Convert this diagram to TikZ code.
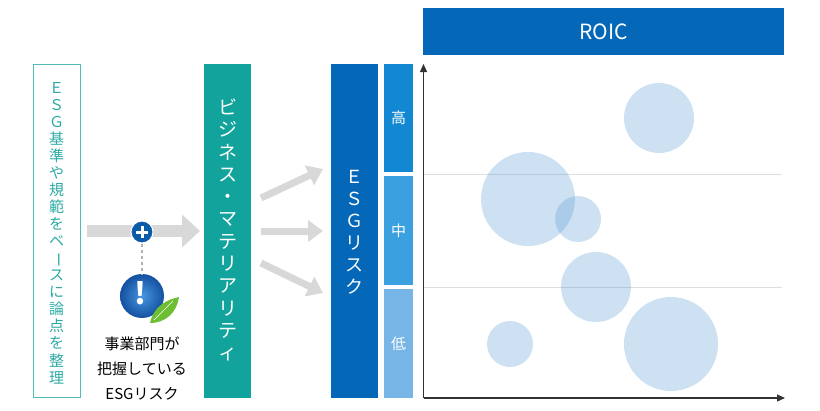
\documentclass[tikz,border=0pt]{standalone}
\usepackage{fontspec}
\setmainfont{Noto Sans CJK JP}
\usetikzlibrary{arrows.meta,shadings}
\definecolor{tealbox}{RGB}{18,164,156}
\definecolor{tealline}{RGB}{80,188,182}
\definecolor{tealtext}{RGB}{45,170,164}
\definecolor{darkblue}{RGB}{4,103,184}
\definecolor{hiblue}{RGB}{18,136,210}
\definecolor{midblue}{RGB}{58,160,224}
\definecolor{loblue}{RGB}{118,181,230}
\definecolor{bubble}{RGB}{91,155,213}
\definecolor{arrowgray}{RGB}{216,216,216}
\definecolor{axisgray}{RGB}{50,50,50}
\definecolor{gridgray}{RGB}{222,222,222}
\definecolor{plusblue}{RGB}{10,92,168}
\definecolor{iconin}{RGB}{70,150,225}
\definecolor{iconout}{RGB}{20,80,160}
\definecolor{leafgreen}{RGB}{110,190,50}
\tikzset{
  vtext/.style={align=center, inner sep=0pt},
  fatarrow/.style={draw=arrowgray, line width=12pt, -{Triangle[length=18pt,width=32pt]}},
  thinarrow/.style={draw=arrowgray, line width=7pt, -{Triangle[length=15pt,width=21pt]}},
  bub/.style={fill=bubble, fill opacity=0.3, draw=none},
  axis/.style={draw=axisgray, line width=1.2pt, -{Triangle[length=8pt,width=7pt]}},
  grid/.style={draw=gridgray, line width=0.6pt},
}
\begin{document}
\begin{tikzpicture}[x=1pt,y=-1pt]
\useasboundingbox (0,0) rectangle (820,410);
% left outlined box
\node[draw=tealline, line width=1pt, minimum width=47pt, minimum height=333pt, inner sep=0pt] (leftbox) at (56.5,230.5) {};
\node[vtext, text=tealtext, font=\fontsize{15}{17.05}\selectfont] (lefttext) at (56.5,233)
 {Ｅ\\Ｓ\\Ｇ\\基\\準\\や\\規\\範\\を\\ベ\\\rotatebox[origin=c]{-90}{ー}\\ス\\に\\論\\点\\を\\整\\理};
% teal box
\node[fill=tealbox, minimum width=47pt, minimum height=334pt, inner sep=0pt] (tealb) at (227.5,231) {};
\node[vtext, text=white, font=\fontsize{19}{22.3}\selectfont] (tealtext) at (227.5,230)
 {ビ\\ジ\\ネ\\ス\\・\\マ\\テ\\リ\\ア\\リ\\テ\\ィ};
% ESG risk box
\node[fill=darkblue, minimum width=47pt, minimum height=334pt, inner sep=0pt] (esgb) at (354.5,231) {};
\node[vtext, text=white, font=\fontsize{18}{22}\selectfont] (esgtext) at (354.5,232)
 {Ｅ\\Ｓ\\Ｇ\\リ\\ス\\ク};
% level boxes
\node[fill=hiblue, minimum width=29pt, minimum height=108pt, inner sep=0pt] (hi) at (398.5,118) {};
\node[fill=midblue, minimum width=29pt, minimum height=109pt, inner sep=0pt] (mid) at (398.5,230.5) {};
\node[fill=loblue, minimum width=29pt, minimum height=109pt, inner sep=0pt] (lo) at (398.5,343.5) {};
\node[text=white, font=\fontsize{15}{18}\selectfont] (hit) at (hi.center) {高};
\node[text=white, font=\fontsize{15}{18}\selectfont] (midt) at (mid.center) {中};
\node[text=white, font=\fontsize{15}{18}\selectfont] (lot) at (lo.center) {低};
% ROIC bar
\node[fill=darkblue, minimum width=361pt, minimum height=47pt, inner sep=0pt, text=white, font=\fontsize{21}{24}\selectfont] (roic) at (603.5,31.5) {ROIC};
% big arrow
\coordinate (fa1) at (87,231);
\coordinate (fa2) at (200,231);
\draw[fatarrow] (fa1) -- (fa2);
% plus icon
\node[circle, fill=plusblue, draw=white, line width=1pt, minimum size=22pt, inner sep=0pt] (plus) at (142,232) {};
\draw[white, line width=3pt] ([xshift=-6pt]plus.center) -- ([xshift=6pt]plus.center);
\draw[white, line width=3pt] ([yshift=-6pt]plus.center) -- ([yshift=6pt]plus.center);
% info icon
\node[circle, inner color=iconin, outer color=iconout, minimum size=44pt, inner sep=0pt] (info) at (142,296) {};
\draw[gray!60, line width=1.3pt, dash pattern=on 3pt off 3pt] (plus.south) -- (info.north);
\node[text=white, font=\bfseries\fontsize{30}{30}\selectfont] (excl) at (140,293) {!};
\fill[leafgreen] (150,323) .. controls (154,306) and (166,300) .. (179,297) .. controls (177,312) and (166,323) .. (150,323);
\draw[white, line width=0.6pt] (154,320) .. controls (163,310) .. (173,301);
% caption
\node[font=\fontsize{15}{25}\selectfont, align=center, inner sep=0pt] (cap) at (142,368) {事業部門が\\把握している\\ESGリスク};
% thin arrows
\coordinate (a1s) at (261,198); \coordinate (a1e) at (323,169);
\coordinate (a2s) at (261,231); \coordinate (a2e) at (323,231);
\coordinate (a3s) at (261,263); \coordinate (a3e) at (323,293);
\draw[thinarrow] (a1s) -- (a1e);
\draw[thinarrow] (a2s) -- (a2e);
\draw[thinarrow] (a3s) -- (a3e);
% grid lines
\coordinate (g1a) at (424,174); \coordinate (g1b) at (782,174);
\coordinate (g2a) at (424,287); \coordinate (g2b) at (782,287);
\draw[grid] (g1a) -- (g1b);
\draw[grid] (g2a) -- (g2b);
% bubbles
\node[circle, bub, minimum size=70pt, inner sep=0pt] (b1) at (659,118) {};
\node[circle, bub, minimum size=94pt, inner sep=0pt] (b2) at (528,199) {};
\node[circle, bub, minimum size=46pt, inner sep=0pt] (b3) at (578,219) {};
\node[circle, bub, minimum size=70pt, inner sep=0pt] (b4) at (596,287) {};
\node[circle, bub, minimum size=46pt, inner sep=0pt] (b5) at (510,344) {};
\node[circle, bub, minimum size=94pt, inner sep=0pt] (b6) at (671,344) {};
% axes
\coordinate (org) at (423.5,398);
\coordinate (ytop) at (423.5,64);
\coordinate (xend) at (785,398);
\draw[axis] (org) -- (ytop);
\draw[axis] (org) -- (xend);
\end{tikzpicture}
\end{document}
